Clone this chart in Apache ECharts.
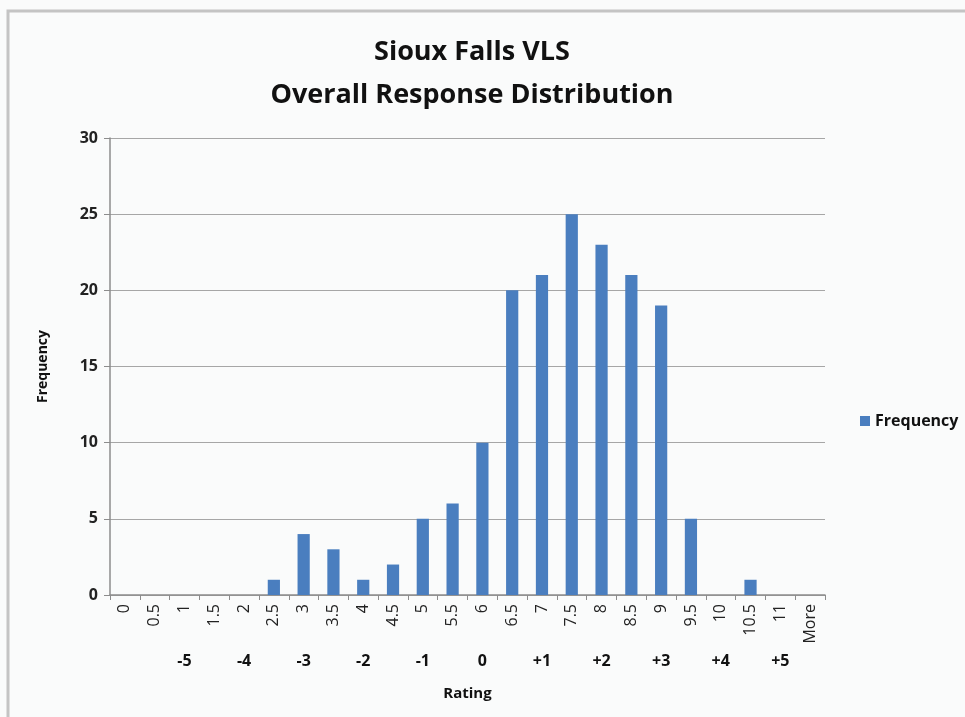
<!DOCTYPE html>
<html>
<head>
<meta charset="utf-8">
<script src="https://cdn.jsdelivr.net/npm/echarts@6/dist/echarts.min.js"></script>
<style>
  html, body { margin: 0; padding: 0; background: #fafbfb; }
  #chart { width: 965px; height: 717px; }
</style>
</head>
<body>
<div id="chart"></div>
<script>
// rating bins
const categories = ['0', '0.5', '1', '1.5', '2', '2.5', '3', '3.5', '4', '4.5', '5', '5.5',
  '6', '6.5', '7', '7.5', '8', '8.5', '9', '9.5', '10', '10.5', '11', 'More'];
// second row of labels under the bins
const shiftLabels = ['', '', '-5', '', '-4', '', '-3', '', '-2', '', '-1', '',
  '0', '', '+1', '', '+2', '', '+3', '', '+4', '', '+5', ''];
const frequency = [0, 0, 0, 0, 0, 1, 4, 3, 1, 2, 5, 6, 10, 20, 21, 25, 23, 21, 19, 5, 0, 1, 0, 0];
const yTicks = { min: 0, max: 30, interval: 5 };

const font = '"Open Sans", "Liberation Sans", sans-serif';
const chart = echarts.init(document.getElementById('chart'));

chart.setOption({
  backgroundColor: '#fafbfb',
  animation: false,
  textStyle: { fontFamily: font },
  graphic: [{
    type: 'rect',
    shape: { x: 8, y: 11, width: 980, height: 740 },
    style: { fill: 'none', stroke: '#c4c4c4', lineWidth: 3 }
  }],
  title: {
    text: 'Sioux Falls VLS\nOverall Response Distribution',
    left: 467,
    textAlign: 'center',
    top: 26,
    textStyle: { fontSize: 27, fontWeight: 'bold', color: '#111', lineHeight: 43, fontFamily: font }
  },
  legend: {
    data: ['Frequency'],
    orient: 'vertical',
    left: 855,
    top: 408,
    itemWidth: 10,
    itemHeight: 10,
    itemGap: 4,
    icon: 'rect',
    textStyle: { fontSize: 16, fontWeight: 'bold', color: '#111', fontFamily: font }
  },
  grid: { left: 110, right: 140, top: 138, bottom: 122 },
  xAxis: [{
    type: 'category',
    data: categories,
    position: 'bottom',
    name: 'Rating',
    nameLocation: 'middle',
    nameGap: 91,
    nameTextStyle: { fontSize: 15, fontWeight: 'bold', color: '#111' },
    axisLine: { lineStyle: { color: '#8c8c8c', width: 1.5 } },
    axisTick: { show: true, length: 5, lineStyle: { color: '#8c8c8c' } },
    axisLabel: { rotate: 90, interval: 0, fontSize: 16, color: '#222', margin: 9 }
  }, {
    type: 'category',
    data: categories,
    position: 'bottom',
    offset: 50,
    axisLine: { show: false },
    axisTick: { show: false },
    axisLabel: {
      interval: 0,
      fontSize: 16,
      fontWeight: 'bold',
      color: '#111',
      formatter: (v, i) => shiftLabels[i]
    }
  }],
  yAxis: {
    type: 'value',
    min: yTicks.min,
    max: yTicks.max,
    interval: yTicks.interval,
    name: 'Frequency',
    nameLocation: 'middle',
    nameGap: 60,
    nameTextStyle: { fontSize: 14, fontWeight: 'bold', color: '#111' },
    axisLine: { show: true, lineStyle: { color: '#8c8c8c', width: 1.5 } },
    axisTick: { show: true, length: 6, lineStyle: { color: '#8c8c8c' } },
    axisLabel: { fontSize: 16, fontWeight: 'bold', color: '#222', margin: 12 },
    splitLine: { lineStyle: { color: '#a6a6a6', width: 1.2 } }
  },
  series: [{
    name: 'Frequency',
    type: 'bar',
    data: frequency,
    barWidth: '41%',
    itemStyle: { color: '#4a7ebf' }
  }]
});
</script>
</body>
</html>
